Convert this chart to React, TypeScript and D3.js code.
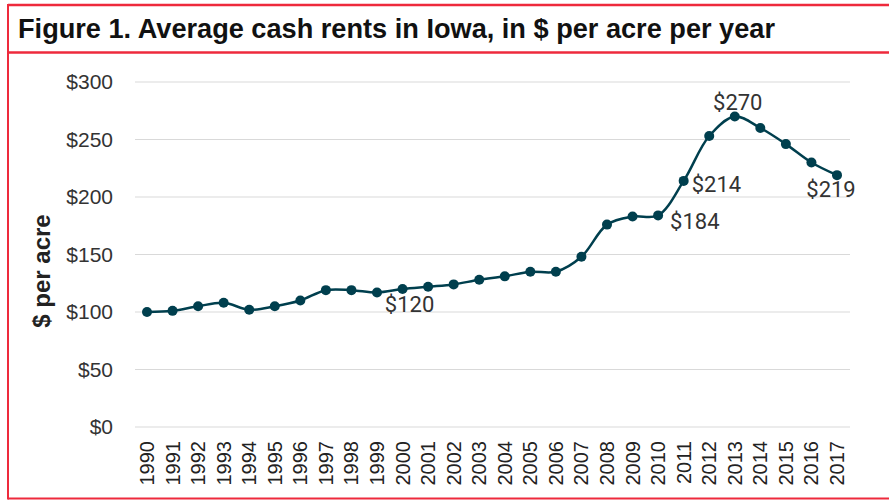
import React from "react";
import * as d3 from "d3";

const years = d3.range(1990, 2018);
const rents = [
  100, 101, 105, 108, 102, 105, 110, 119, 119, 117, 120, 122, 124, 128, 131,
  135, 135, 148, 176, 183, 184, 214, 253, 270, 260, 246, 230, 219,
];
const yTicks = [0, 50, 100, 150, 200, 250, 300];
// labelled points: year, text, placement
const callouts = [
  { year: 2000, text: "$120", dx: 7, dy: 23, anchor: "middle" },
  { year: 2010, text: "$184", dx: 12, dy: 14, anchor: "start" },
  { year: 2011, text: "$214", dx: 8, dy: 11, anchor: "start" },
  { year: 2013, text: "$270", dx: 3, dy: -7, anchor: "middle" },
  { year: 2017, text: "$219", dx: -6, dy: 22, anchor: "middle" },
];

const W = 889;
const H = 501;
const red = "#ee2a3c";
const teal = "#003f4e";

export default function App() {
  const x = d3.scaleLinear().domain([1990, 2017]).range([147, 837]);
  const y = d3.scaleLinear().domain([0, 300]).range([427, 82]);
  const line = d3
    .line<number>()
    .x((_, i) => x(years[i]))
    .y((d) => y(d))
    .curve(d3.curveCatmullRom.alpha(0.5));

  return (
    <svg
      width={W}
      height={H}
      style={{ position: "absolute", left: 0, top: 0, background: "#fff" }}
      fontFamily="'Liberation Sans', Arial, sans-serif"
    >
      {/* frame */}
      <line x1={8} x2={W} y1={5} y2={5} stroke={red} strokeWidth={2.5} />
      <line x1={8} x2={W} y1={52.5} y2={52.5} stroke={red} strokeWidth={2.5} />
      <line x1={8} x2={W} y1={498.5} y2={498.5} stroke={red} strokeWidth={2} />
      <line x1={8} x2={8} y1={4} y2={499.5} stroke={red} strokeWidth={2} />
      <text
        x={18}
        y={38}
        fontWeight="bold"
        fontSize={28}
        textLength={757}
        lengthAdjust="spacingAndGlyphs"
        fill="#111"
      >
        Figure 1. Average cash rents in Iowa, in $ per acre per year
      </text>

      {/* grid + y axis */}
      {yTicks.map((t) => (
        <g key={t}>
          <line x1={135} x2={850} y1={y(t)} y2={y(t)} stroke="#d9d9d9" strokeWidth={1} />
          <text x={113} y={y(t)} dy="0.35em" textAnchor="end" fontSize={21} fill="#333">
            {`$${t}`}
          </text>
        </g>
      ))}
      <text
        transform={`translate(50,${271}) rotate(-90)`}
        textAnchor="middle"
        fontWeight="bold"
        fontSize={24}
        fill="#222"
      >
        $ per acre
      </text>

      {/* x axis */}
      {years.map((yr) => (
        <text
          key={yr}
          transform={`translate(${x(yr)},441) rotate(-90)`}
          textAnchor="end"
          dy="0.35em"
          fontSize={20}
          fill="#222"
        >
          {yr}
        </text>
      ))}

      {/* series */}
      <path d={line(rents) || ""} fill="none" stroke={teal} strokeWidth={2.5} />
      {rents.map((v, i) => (
        <circle key={i} cx={x(years[i])} cy={y(v)} r={5} fill={teal} />
      ))}
      {callouts.map((c) => {
        const i = years.indexOf(c.year);
        return (
          <text
            key={c.year}
            x={x(c.year) + c.dx}
            y={y(rents[i]) + c.dy}
            textAnchor={c.anchor}
            fontFamily="Roboto, 'Liberation Sans', sans-serif"
            fontSize={22}
            fill="#333"
          >
            {c.text}
          </text>
        );
      })}
    </svg>
  );
}
